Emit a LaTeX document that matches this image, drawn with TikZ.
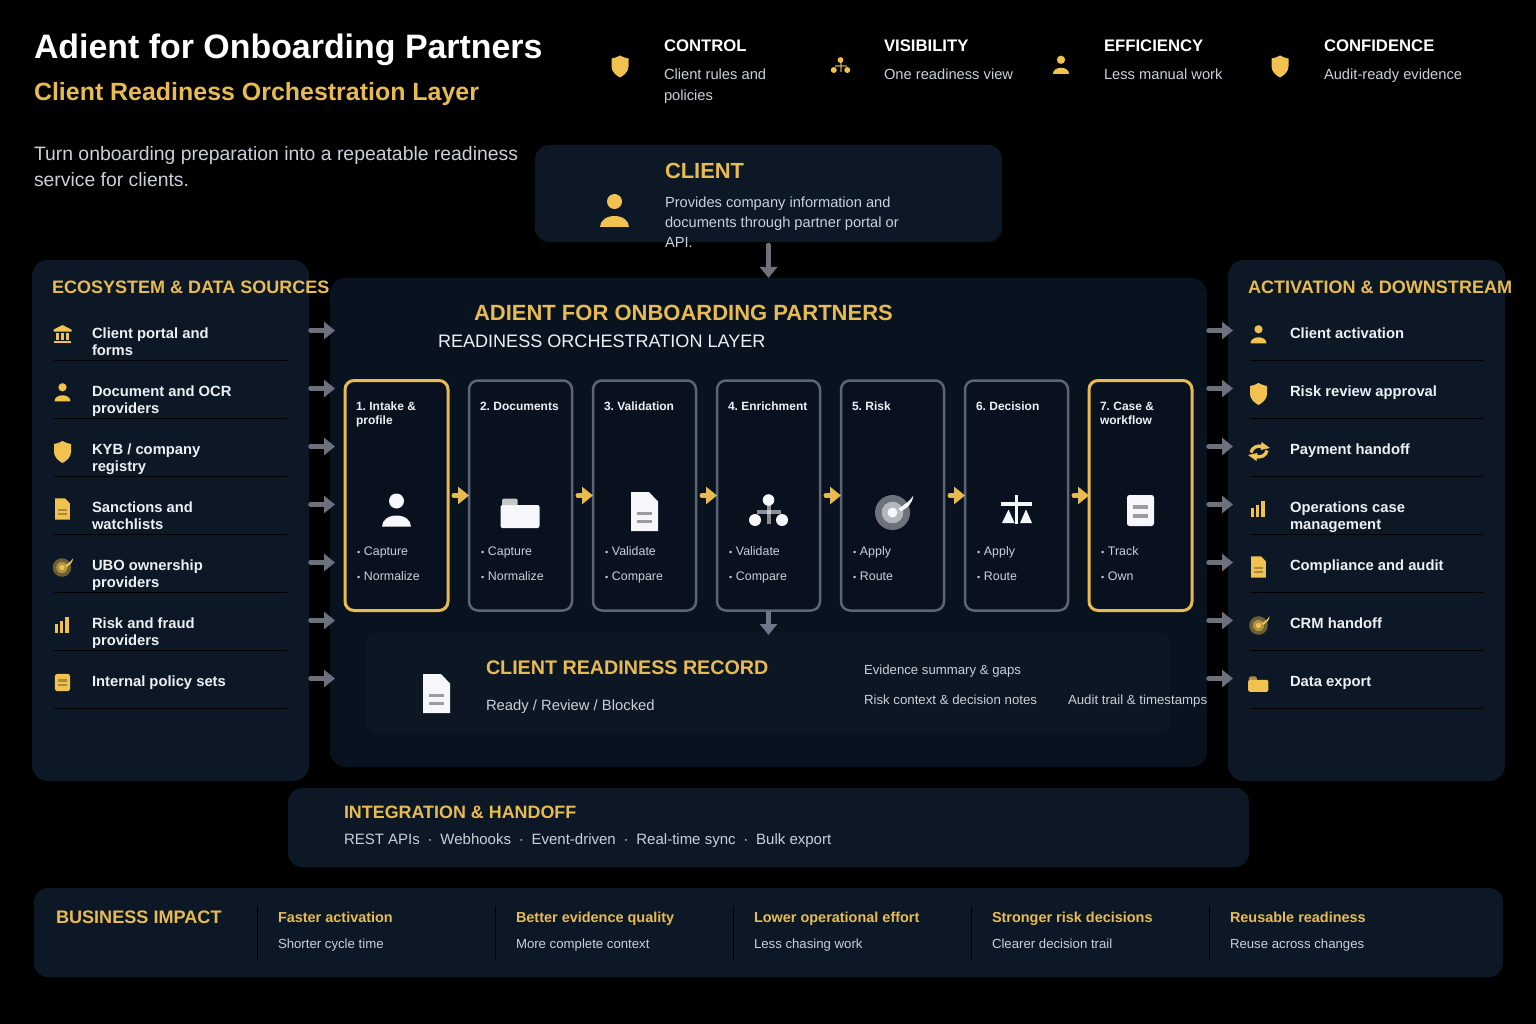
\documentclass[tikz,border=0pt]{standalone}
\usepackage{fontspec}
\setmainfont{Liberation Sans}
\usetikzlibrary{arrows.meta,calc}
\definecolor{gold}{HTML}{E8BB52}
\definecolor{icongold}{HTML}{F2C251}
\definecolor{golddim}{HTML}{A98A3E}
\definecolor{iconwhite}{HTML}{F5F7FA}
\definecolor{icongrey}{HTML}{9A9CA0}
\definecolor{bodytext}{HTML}{CBD0D8}
\definecolor{itemtext}{HTML}{EDF0F4}
\definecolor{panelside}{HTML}{0C1825}
\definecolor{panelmain}{HTML}{08131F}
\definecolor{panelrec}{HTML}{0D1724}
\definecolor{cardfill}{HTML}{0A111E}
\definecolor{cardedge}{HTML}{5A6676}
\definecolor{arrowgrey}{HTML}{6C717B}
\definecolor{arrowblue}{HTML}{6B7889}
\tikzset{
  x=1pt,y=-1pt,
  txt/.style={anchor=base west,inner sep=0pt,outer sep=0pt},
  panelbox/.style={rectangle,inner sep=0pt,outer sep=0pt,rounded corners=#1},
  cardgrey/.style={rectangle,draw=cardedge,line width=2.5pt,fill=cardfill,rounded corners=9pt,minimum width=103pt,minimum height=230pt,inner sep=0pt,outer sep=0pt},
  cardgold/.style={cardgrey,draw=gold,line width=3pt},
  greyarrow/.style={draw=arrowgrey,line width=4.5pt,line cap=round,-{Triangle[length=11pt,width=17pt]}},
  goldarrow/.style={draw=gold,line width=5pt,line cap=round,-{Triangle[length=11pt,width=17pt]}},
  divider/.style={draw=black,line width=1pt},
}
% text: name, x, baseline y, size, colour, text
\newcommand{\tx}[6]{\node[txt,text=#5,font=\fontsize{#4}{#4}\selectfont] (#1) at (#2,#3) {\frenchspacing #6};}
\newcommand{\tb}[6]{\node[txt,text=#5,font=\fontsize{#4}{#4}\selectfont\bfseries] (#1) at (#2,#3) {\frenchspacing #6};}
\newcommand{\panel}[6]{\node[panelbox=#6,fill=#5,minimum width={(#3-#1)*1pt},minimum height={(#4-#2)*1pt}] at ({(#1+#3)/2},{(#2+#4)/2}) }
\newcommand{\smalldot}{{\fontsize{9}{9}\selectfont •}}
% icons: x, y, scale, colour
\newcommand{\IPerson}[4]{\begin{scope}[shift={(#1,#2)},scale=#3]
 \fill[#4] (0,-9.5) circle[radius=7.5];
 \fill[#4] (-14.5,16) .. controls (-14.5,9.5) and (-8,5) .. (0,5) .. controls (8,5) and (14.5,9.5) .. (14.5,16) -- cycle;
\end{scope}}
\newcommand{\IShield}[4]{\begin{scope}[shift={(#1,#2)},scale=#3]
 \fill[#4] (0,-11) .. controls (-3,-9) and (-6,-8.5) .. (-8.5,-8) -- (-8.5,0) .. controls (-8.5,5) and (-4,9) .. (0,11) .. controls (4,9) and (8.5,5) .. (8.5,0) -- (8.5,-8) .. controls (6,-8.5) and (3,-9) .. (0,-11) -- cycle;
\end{scope}}
% doc: x,y,scale,fill,line colour
\newcommand{\IDoc}[5]{\begin{scope}[shift={(#1,#2)},scale=#3]
 \fill[#4] (-13.5,-19.5) -- (4.5,-19.5) -- (13.5,-10) -- (13.5,19.5) -- (-13.5,19.5) -- cycle;
 \fill[#5] (-8,0) rectangle (7.5,3);
 \fill[#5] (-8,8) rectangle (7.5,11);
\end{scope}}
\newcommand{\IMemo}[5]{\begin{scope}[shift={(#1,#2)},scale=#3]
 \fill[#4,rounded corners=2.5pt] (-13.5,-15.5) rectangle (13.5,15.5);
 \fill[#5] (-7.5,-5.5) rectangle (7.5,-1.5);
 \fill[#5] (-7.5,3) rectangle (7.5,7);
\end{scope}}
\newcommand{\IFolder}[5]{\begin{scope}[shift={(#1,#2)},scale=#3]
 \fill[#5,rounded corners=1.5pt] (-18.5,-14.5) rectangle (-3,-2);
 \fill[#4,rounded corners=2pt] (-20,-8) rectangle (19,15);
\end{scope}}
\newcommand{\IHier}[4]{\begin{scope}[shift={(#1,#2)},scale=#3]
 \fill[#4,opacity=.55] (-12,-8) rectangle (12,-4);
 \fill[#4,opacity=.55] (-2,-16) rectangle (2,6);
 \fill[#4] (0,-18) circle[radius=5.8];
 \fill[#4] (-13.5,2) circle[radius=6];
 \fill[#4] (13.5,2) circle[radius=6];
\end{scope}}
\newcommand{\ITarget}[4]{\begin{scope}[shift={(#1,#2)},scale=#3]
 \fill[#4,opacity=.42] (0,0) circle[radius=17.5];
 \fill[panelmain] (0,0) circle[radius=11];
 \fill[#4,opacity=.72] (0,0) circle[radius=11];
 \fill[#4] (0,0) circle[radius=5];
 \fill[#4] (6,-4) .. controls (12,-8) and (17,-11) .. (21,-17) .. controls (20,-10) and (16,-5) .. (8,-1) -- cycle;
\end{scope}}
\newcommand{\IScale}[4]{\begin{scope}[shift={(#1,#2)},scale=#3]
 \fill[#4] (-15.5,-7.5) rectangle (15.5,-3.5);
 \fill[#4] (-14.5,13.5) -- (-8,-0) -- (-2,13.5) -- cycle;
 \fill[#4] (3.5,13.5) -- (9.5,-0) -- (15.5,13.5) -- cycle;
 \fill[#4] (-1.5,-14.5) rectangle (1.5,14.5);
\end{scope}}
\newcommand{\IBars}[3]{\begin{scope}[shift={(#1,#2)}]
 \fill[#3] (-7.2,-.7) rectangle (-4,8);
 \fill[#3] (-2,-4.3) rectangle (1.2,8);
 \fill[#3] (3.4,-8) rectangle (7.2,8);
\end{scope}}
\newcommand{\IBank}[3]{\begin{scope}[shift={(#1,#2)}]
 \fill[#3] (0,-9) -- (9,-4.5) -- (9,-2.5) -- (-9,-2.5) -- (-9,-4.5) -- cycle;
 \fill[#3] (-6.5,-1.5) rectangle (-3.8,5.5);
 \fill[#3] (-1.35,-1.5) rectangle (1.35,5.5);
 \fill[#3] (3.8,-1.5) rectangle (6.5,5.5);
 \fill[#3] (-8.5,6.5) rectangle (8.5,9);
\end{scope}}
\newcommand{\ISync}[3]{\begin{scope}[shift={(#1,#2)}]
 \draw[#3,line width=3.3pt] (-8,1) .. controls (-7,-4) and (-2,-6.5) .. (4,-5);
 \fill[#3] (2.5,-9.5) -- (11,-3.5) -- (1.5,-1.5) -- cycle;
 \draw[#3,line width=3.3pt] (8,-1) .. controls (7,4) and (2,6.5) .. (-4,5);
 \fill[#3] (-2.5,9.5) -- (-11,3.5) -- (-1.5,1.5) -- cycle;
\end{scope}}
\begin{document}
\begin{tikzpicture}
\useasboundingbox (0,0) rectangle (1536,1024);
\fill[black] (0,0) rectangle (1536,1024);
% panels
\panel{535}{145}{1002}{242}{panelside}{14pt} (client) {};
\panel{32}{260}{309}{781}{panelside}{16pt} (eco) {};
\panel{1228}{260}{1505}{781}{panelside}{16pt} (act) {};
\panel{330}{278}{1207}{767}{panelmain}{16pt} (main) {};
\panel{366}{632}{1170}{734}{panelrec}{12pt} (record) {};
\panel{288}{788}{1249}{867}{panelside}{14pt} (integ) {};
\panel{34}{888}{1503}{977}{panelside}{14pt} (impact) {};
% header
\tb{title}{34}{59}{33.9}{white}{Adient for Onboarding Partners}
\tb{subtitle}{34}{100.5}{24.95}{gold}{Client Readiness Orchestration Layer}
\tx{introa}{34}{160.5}{19.38}{bodytext}{Turn onboarding preparation into a repeatable readiness}
\tx{introb}{34}{186.5}{19.38}{bodytext}{service for clients.}
\IShield{620}{66.5}{1}{icongold}
\IHier{840.5}{69}{.5}{icongold}
\IPerson{1061}{65}{.55}{icongold}
\IShield{1280}{66.5}{1}{icongold}
\tb{hc1}{664}{52}{16.7}{white}{CONTROL}
\tx{hc1a}{664}{79.5}{14.7}{bodytext}{Client rules and}
\tx{hc1b}{664}{100.5}{14.7}{bodytext}{policies}
\tb{hc2}{884}{52}{16.7}{white}{VISIBILITY}
\tx{hc2a}{884}{79.5}{14.7}{bodytext}{One readiness view}
\tb{hc3}{1104}{52}{16.7}{white}{EFFICIENCY}
\tx{hc3a}{1104}{79.5}{14.7}{bodytext}{Less manual work}
\tb{hc4}{1324}{52}{16.7}{white}{CONFIDENCE}
\tx{hc4a}{1324}{79.5}{14.7}{bodytext}{Audit-ready evidence}
% client
\IPerson{614.5}{211}{1}{icongold}
\tb{clienth}{665}{179}{21.9}{gold}{CLIENT}
\tx{clienta}{665}{207.5}{14.65}{bodytext}{Provides company information and}
\tx{clientb}{665}{227.5}{14.65}{bodytext}{documents through partner portal or}
\tx{clientc}{665}{247.5}{14.65}{bodytext}{API.}
% main
\tb{mainh}{474}{320}{22}{gold}{ADIENT FOR ONBOARDING PARTNERS}
\tx{mains}{438}{347.5}{18.06}{itemtext}{READINESS ORCHESTRATION LAYER}
% cards
\node[cardgold] (c1) at (396.5,495.5) {};
\node[cardgrey] (c2) at (520.5,495.5) {};
\node[cardgrey] (c3) at (644.5,495.5) {};
\node[cardgrey] (c4) at (768.5,495.5) {};
\node[cardgrey] (c5) at (892.5,495.5) {};
\node[cardgrey] (c6) at (1016.5,495.5) {};
\node[cardgold] (c7) at (1140.5,495.5) {};
\foreach \a/\b in {c1/c2,c2/c3,c3/c4,c4/c5,c5/c6,c6/c7}
  \draw[goldarrow,shorten <=6pt] (\a.east) -- (\b.west);
\tb{t1a}{356}{410}{12}{itemtext}{1. Intake \&}
\tb{t1b}{356}{424}{12}{itemtext}{profile}
\tb{t2}{480}{410}{12}{itemtext}{2. Documents}
\tb{t3}{604}{410}{12}{itemtext}{3. Validation}
\tb{t4}{728}{410}{12}{itemtext}{4. Enrichment}
\tb{t5}{852}{410}{12}{itemtext}{5. Risk}
\tb{t6}{976}{410}{12}{itemtext}{6. Decision}
\tb{t7a}{1100}{410}{12}{itemtext}{7. Case \&}
\tb{t7b}{1100}{424}{12}{itemtext}{workflow}
\foreach \n/\x/\p/\q in {1/357/Capture/Normalize,2/481/Capture/Normalize,3/605/Validate/Compare,4/729/Validate/Compare,5/853/Apply/Route,6/977/Apply/Route,7/1101/Track/Own}{
  \node[txt,text=bodytext,font=\fontsize{12.4}{12.4}\selectfont] (bp\n) at (\x,555) {\smalldot\hspace{3.8pt}\p};
  \node[txt,text=bodytext,font=\fontsize{12.4}{12.4}\selectfont] (bq\n) at (\x,580) {\smalldot\hspace{3.8pt}\q};
}
\IPerson{396.5}{510.5}{1}{iconwhite}
\IFolder{520.5}{513}{1}{iconwhite}{iconwhite!80!black}
\IDoc{644.5}{511.5}{1}{iconwhite}{icongrey}
\IHier{768.5}{518}{1}{iconwhite}
\ITarget{892.5}{512.5}{1}{iconwhite}
\IScale{1016.5}{509.5}{1}{iconwhite}
\IMemo{1140.5}{510.5}{1}{iconwhite}{icongrey}
% connectors
\draw[greyarrow,shorten <=3pt] (client.south) -- (main.north);
\draw[draw=arrowblue,line width=4.5pt,-{Triangle[length=11pt,width=17pt]},shorten >=-3pt] (c4.south) -- (record.north -| c4.south);
\foreach \i/\y in {1/330.5,2/388.5,3/446.5,4/504.5,5/562.5,6/620.5,7/678.5}{
  \coordinate (lv\i) at (0,\y);
  \draw[greyarrow,shorten >=-5pt,shorten <=1.5pt] (eco.east |- lv\i) -- (main.west |- lv\i);
  \draw[greyarrow,shorten >=-5pt,shorten <=1.5pt] (main.east |- lv\i) -- (act.west |- lv\i);
}
% left column
\tb{ecoh}{52}{294}{18}{gold}{ECOSYSTEM \& DATA SOURCES}
\tb{e1a}{92}{338}{14.78}{itemtext}{Client portal and}
\tb{e1b}{92}{355}{14.78}{itemtext}{forms}
\tb{e2a}{92}{396}{14.78}{itemtext}{Document and OCR}
\tb{e2b}{92}{413}{14.78}{itemtext}{providers}
\tb{e3a}{92}{454}{14.78}{itemtext}{KYB / company}
\tb{e3b}{92}{471}{14.78}{itemtext}{registry}
\tb{e4a}{92}{512}{14.78}{itemtext}{Sanctions and}
\tb{e4b}{92}{529}{14.78}{itemtext}{watchlists}
\tb{e5a}{92}{570}{14.78}{itemtext}{UBO ownership}
\tb{e5b}{92}{587}{14.78}{itemtext}{providers}
\tb{e6a}{92}{628}{14.78}{itemtext}{Risk and fraud}
\tb{e6b}{92}{645}{14.78}{itemtext}{providers}
\tb{e7a}{92}{686}{14.78}{itemtext}{Internal policy sets}
\foreach \y in {360,418,476,534,592,650,708}{
  \draw[divider] (54,\y) -- (287,\y);
  \draw[divider] (1250,\y) -- (1483,\y);
}
\IBank{62.5}{334}{icongold}
\IPerson{62.5}{392.5}{.55}{icongold}
\IShield{62.5}{452}{1}{icongold}
\IDoc{62.5}{509}{.55}{icongold}{golddim}
\ITarget{62}{567.5}{.53}{icongold}
\IBars{62}{625}{icongold}
\IMemo{62.5}{682.5}{.56}{icongold}{golddim}
% right column
\tb{acth}{1248}{294}{18.06}{gold}{ACTIVATION \& DOWNSTREAM}
\tb{a1}{1290}{338}{14.78}{itemtext}{Client activation}
\tb{a2}{1290}{396}{14.78}{itemtext}{Risk review approval}
\tb{a3}{1290}{454}{14.78}{itemtext}{Payment handoff}
\tb{a4a}{1290}{512}{14.78}{itemtext}{Operations case}
\tb{a4b}{1290}{529}{14.78}{itemtext}{management}
\tb{a5}{1290}{570}{14.78}{itemtext}{Compliance and audit}
\tb{a6}{1290}{628}{14.78}{itemtext}{CRM handoff}
\tb{a7}{1290}{686}{14.78}{itemtext}{Data export}
\IPerson{1258.5}{334.5}{.55}{icongold}
\IShield{1258.5}{394}{1}{icongold}
\ISync{1259}{451.5}{icongold}
\IBars{1258}{509}{icongold}
\IDoc{1258.5}{567}{.55}{icongold}{golddim}
\ITarget{1258.5}{625.5}{.53}{icongold}
\IFolder{1258.5}{684}{.52}{icongold}{golddim}
% record
\IDoc{436.5}{693.5}{1}{iconwhite}{icongrey}
\tb{rech}{486}{674}{19.7}{gold}{CLIENT READINESS RECORD}
\tx{recs}{486}{710}{14.8}{bodytext}{Ready / Review / Blocked}
\tx{reca}{864}{674}{13.2}{bodytext}{Evidence summary \& gaps}
\tx{recb}{864}{704}{13.25}{bodytext}{Risk context \& decision notes}
\tx{recc}{1068}{704}{13.25}{bodytext}{Audit trail \& timestamps}
% integration
\tb{inth}{344}{818}{17.9}{gold}{INTEGRATION \& HANDOFF}
\tx{ints}{344}{844}{15}{bodytext}{REST APIs\hspace{7.8pt}·\hspace{7.8pt}Webhooks\hspace{7.8pt}·\hspace{7.8pt}Event-driven\hspace{7.8pt}·\hspace{7.8pt}Real-time sync\hspace{7.8pt}·\hspace{7.8pt}Bulk export}
% impact
\tb{imph}{56}{923}{18.1}{gold}{BUSINESS IMPACT}
\foreach \x in {257,495,733,971,1209}
  \draw[divider] (\x,906) -- (\x,961);
\foreach \n/\x/\p/\q in {1/278/Faster activation/Shorter cycle time,2/516/Better evidence quality/More complete context,3/754/Lower operational effort/Less chasing work,4/992/Stronger risk decisions/Clearer decision trail,5/1230/Reusable readiness/Reuse across changes}{
  \node[txt,text=gold,font=\fontsize{14.45}{14.45}\selectfont\bfseries] (ip\n) at (\x,922) {\p};
  \node[txt,text=bodytext,font=\fontsize{13.2}{13.2}\selectfont] (iq\n) at (\x,948) {\q};
}
\end{tikzpicture}
\end{document}
